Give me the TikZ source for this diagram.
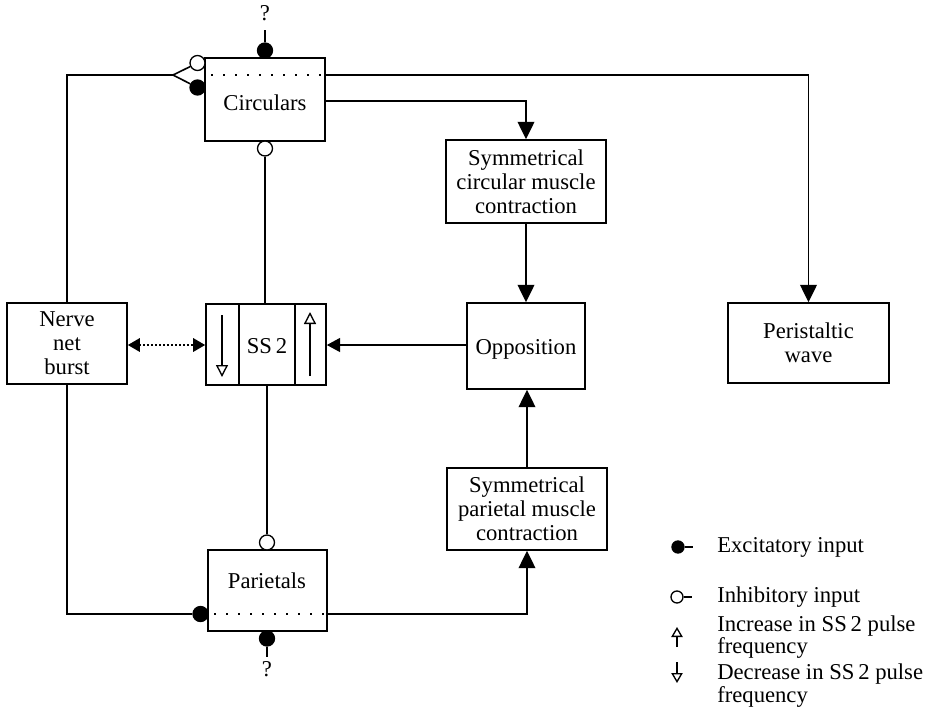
\documentclass[tikz,border=0pt]{standalone}
\usepackage{fontspec}
\setmainfont{Liberation Serif}
\usetikzlibrary{arrows.meta}
\begin{document}
\begin{tikzpicture}[x=0.75pt,y=-0.75pt,
  lw/.style={line width=1.2pt},
  box/.style={draw, line width=1.2pt, inner sep=1pt, align=center, font=\fontsize{17}{18}\selectfont},
  txt/.style={inner sep=0pt, align=center, font=\fontsize{17}{18}\selectfont},
  exc/.style={circle, draw, fill=black, line width=1pt, minimum size=11.25pt, inner sep=0pt},
  inh/.style={circle, draw, fill=white, line width=1pt, minimum size=11.25pt, inner sep=0pt},
  lexc/.style={exc, minimum size=9pt},
  linh/.style={inh, minimum size=9pt},
  arr/.style={-{Triangle[length=13pt,width=12.5pt]}},
  sarr/.style={{Triangle[length=9pt,width=10pt]}-{Triangle[length=9pt,width=10pt]}},
  harr/.style={-{Triangle[length=10pt,width=10.5pt]}},
  oarr/.style={-{Triangle[open,length=9pt,width=9pt]}},
  larr/.style={-{Triangle[open,length=7.5pt,width=8.5pt]}},
  sepline/.style={line width=1.2pt, dash pattern=on 1.2pt off 7.8pt},
  denseline/.style={line width=1.5pt, dash pattern=on 1.5pt off 1.5pt}
]
\useasboundingbox (0,0) rectangle (936,719);

% boxes
\node[box, minimum width=90pt, minimum height=62.25pt] (circ) at (265,99.5) {};
\node[txt, anchor=base] (circT) at (265,110) {Circulars};
\node[box, minimum width=120pt, minimum height=62.25pt] (scc) at (526,181.5) {Symmetrical\\circular muscle\\contraction};
\node[box, minimum width=88.5pt, minimum height=64.5pt] (opp) at (526,346) {};
\node[txt, anchor=base] (oppT) at (526,354) {Opposition};
\node[box, minimum width=120pt, minimum height=61.5pt] (spc) at (527,509) {Symmetrical\\parietal muscle\\contraction};
\node[box, minimum width=90pt, minimum height=60.75pt] (ss2) at (266,344.5) {};
\node[txt, anchor=base] (ss2T) at (267,353) {SS\,2};
\node[box, minimum width=90pt, minimum height=60.75pt] (nnb) at (67,343.5) {Nerve\\net\\burst};
\node[box, minimum width=89.25pt, minimum height=60.75pt] (par) at (267.5,590.5) {};
\node[txt, anchor=base] (parT) at (267,588) {Parietals};
\node[box, minimum width=120.75pt, minimum height=60pt] (pw) at (808.5,343) {Peristaltic\\wave};

% separators inside boxes
\draw[sepline] (211,75) -- (324,75);
\draw[sepline] (214,614) -- (326,614);
\draw[lw] (239,304) -- (239,385);
\draw[lw] (295,304) -- (295,385);
\draw[line width=1pt, oarr] (222,315) -- (222,377);
\draw[line width=1pt, oarr] (310,376) -- (310,312);

% terminals on Circulars
\node[inh] (cinh) at (197.5,63) {};
\node[exc] (cexc) at (197.5,87.5) {};
\node[exc] (ctop) at (265,50.5) {};
\node[inh] (cbot) at (265,148.5) {};
\node[txt, anchor=base] (q1) at (265,20) {?};
\coordinate (q1e) at (265,30);
\coordinate (fork) at (173,75);

% terminals on Parietals
\node[inh] (ptop) at (267,542.5) {};
\node[exc] (pexc) at (200.5,614) {};
\node[exc] (pbot) at (267,638.5) {};
\node[txt, anchor=base] (q2) at (267,676) {?};
\coordinate (q2e) at (267,657);

% connectors
\draw[lw] (q1e) -- (ctop);
\draw[lw] (pbot) -- (q2e);
\draw[lw] (nnb.north) |- (fork);
\draw[lw] (fork) -- (cinh);
\draw[lw] (fork) -- (cexc);
\draw[lw] (cbot) -- (cbot |- ss2.north);
\draw[lw] (ptop) -- (ptop |- ss2.south);
\draw[lw] (nnb.south) |- (pexc);
\coordinate (c1) at (325,75);
\coordinate (c2) at (325,101);
\coordinate (p1) at (327.5,614);
\draw[lw, arr] (c1) -| (pw.north);
\draw[lw, arr] (c2) -| (scc.north);
\draw[lw, arr] (scc.south) -- (opp.north);
\draw[lw, arr] (spc.north) -- (spc.north |- opp.south);
\draw[lw, arr] (p1) -| (spc.south);
\draw[lw, harr] (opp.west |- 0,345) -- (ss2.east |- 0,345);
\draw[denseline, sarr] (nnb.east |- 0,345) -- (ss2.west |- 0,345);

% legend
\node[lexc] (l1) at (678,547) {};
\coordinate (l1e) at (693,547);
\draw[lw] (l1) -- (l1e);
\node[txt, anchor=west] (l1T) at (717,547) {Excitatory input};
\node[linh] (l2) at (677,597) {};
\coordinate (l2e) at (692,597);
\draw[lw] (l2) -- (l2e);
\node[txt, anchor=west] (l2T) at (717,597) {Inhibitory input};
\coordinate (l3a) at (677,647);
\coordinate (l3b) at (677,627);
\draw[line width=1pt, larr] (l3a) -- (l3b);
\node[txt, anchor=base west] (l3T) at (717,631) {Increase in SS\,2 pulse};
\node[txt, anchor=base west] (l3U) at (717,653) {frequency};
\coordinate (l4a) at (677,662);
\coordinate (l4b) at (677,683);
\draw[line width=1pt, larr] (l4a) -- (l4b);
\node[txt, anchor=base west] (l4T) at (717,679) {Decrease in SS\,2 pulse};
\node[txt, anchor=base west] (l4U) at (717,702) {frequency};
\end{tikzpicture}
\end{document}
